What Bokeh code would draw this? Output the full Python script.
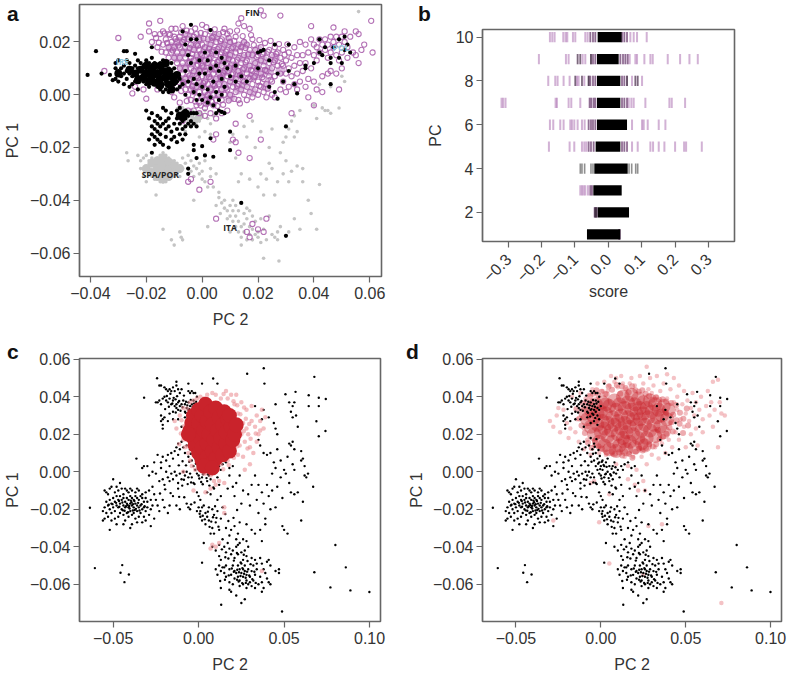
import math
from bokeh.plotting import figure
from bokeh.models import FixedTicker, Label, Div
from bokeh.embed import file_html
from bokeh.resources import INLINE

UNIT = 0.001

a_gray = [(-27,-22),(-26.5,-25),(-23,-23),(-22,-25),(-22,-28),(-21,-31),(-20,-33),(-21,-24),(-20,-23),(-19,-27),(-19,-25),(-19,-29),(-18,-31),(-18,-26),(-18,-24),(-17,-28),(-17,-25),(-17,-30),(-17,-32),(-16,-24),(-16,-26),(-16,-28),(-16,-30),(-16,-32),(-15,-23),(-15,-25),(-15,-27),(-15,-29),(-15,-31),(-15,-33),(-14,-22),(-14,-24),(-14,-26),(-14,-28),(-14,-30),(-14,-32),(-14,-33),(-13,-23),(-13,-25),(-13,-27),(-13,-29),(-13,-31),(-13,-33),(-12,-24),(-12,-26),(-12,-28),(-12,-30),(-12,-32),(-11,-25),(-11,-27),(-11,-29),(-11,-31),(-10,-25),(-10,-27),(-10,-29),(-10,-31),(-9,-26),(-9,-28),(-9,-30),(-8,-27),(-8,-29),(-8,-31),(-7,-24),(-7,-28),(-6,-26),(-5,-23),(-4,-25),(-4,-29),(-3,-27),(-3,-31),(-2,-24),(-2,-28),(-1,-30),(-1,-26),(0,-32),(0,-29),(1,-25),(1,-33),(2,-35),(3,-28),(3,-31),(4,-35),(5,-30),(6,-37),(-16.5,-38),(-14,-51),(-11,-55),(-10,-57),(-8,-52),(-7.5,-54),(-7,-55),(-3,-40),(2,-50),(5,-42),(6,-39),(6.5,-45),(7,-41),(8,-43),(8,-40),(9,-44),(9,-47),(10,-42),(10,-46),(10,-52),(11,-44),(11,-48),(11,-40),(12,-50),(12,-42),(12,-46),(13,-44),(13,-48),(13,-52),(14,-50),(14,-54),(14,-57),(15,-45),(15,-49),(15,-52),(16,-43),(16,-47),(16,-55),(17,-44),(17,-50),(17,-53),(18,-46),(18,-51),(18,-55),(19,-48),(19,-53),(20,-52),(20,-54),(21,-47),(21,-56),(22,-51),(22,-62),(23,-55),(24,-46),(25,-53),(26,-54),(27,-52),(27,-55),(28,-50),(27.5,-63),(31,-52),(33,-47),(35,-51),(41,-51),(39,-45),(13,-33),(14,-30),(17,-32),(20,-35),(21,-30),(22,-38),(23,-32),(24,-26),(25,-28),(26,-38),(27,-33),(29,-30),(30,-25),(31,-33),(32,-29),(34,-27),(36,-28),(36,-33),(38,-40),(42,-34),(12,-24),(11,-15),(10,-18),(15,-12),(16,-16),(18,-10),(19,-20),(21,-14),(24,-20),(25,-13),(28,-22),(29,-18),(30,-16),(31,-13),(32,-10),(33,-8),(33,-16),(34,-14),(35,-6),(40,-4),(41,-9),(43,-5),(44,-6),(45,-6),(46,-7),(49,-5),(42,4),(46,3),(50,7),(51,5),(56,31.5),(-4,-12),(-3,-9),(-2,-7),(-1,-10),(0,-8),(1,-6),(2,-9),(3,-11),(3,-15),(1,-14),(-1,-16),(4,-8),(-6,-7),(-7,-5),(-8,-8),(-5,-10),(-6,-14)]
a_gray_core = [(-20,-28),(-18,-26),(-18,-29.5),(-16,-25),(-16,-28),(-16,-31),(-14,-24),(-14,-27),(-14,-30),(-14,-32),(-12,-25.5),(-12,-28.5),(-12,-31),(-10,-27),(-10,-29.5),(-8,-28),(-3,-10),(-1,-8),(-6,-8),(-8,-6),(-4,-7)]

a_purple = [(-35,9),(-30,21.5),(-25,0.5),(-24,3),(-22,22),(-21,2),(-20,-1.5),(-19,27),(-19,24),(-18,20),(-17,23),(-16,18),(-16,2),(-15,28),(-15,23),(-14,19),(-14,24),(-13,21),(-13,16),(-12,23),(-12,18),(-12,14),(-11,25),(-11,20),(-11,16),(-11,1),(-10,22),(-10,18),(-10,14),(-10,-1),(-9.5,25),(-9,20),(-9,16),(-9,12),(-9,3),(-8,22),(-8,18),(-8,14),(-8,10),(-8,6),(-8,-3),(-7,26),(-7,20),(-7,16),(-7,12),(-7,8),(-7,4),(-6,23),(-6,18),(-6,14),(-6,10),(-6,6),(-6,2),(-5,21),(-5,16),(-5,12),(-5,8),(-5,4),(-5,0),(-4,24),(-4,19),(-4,14),(-4,10),(-4,6),(-4,2),(-4,-2),(-3,22),(-3,17),(-3,13),(-3,9),(-3,5),(-3,1),(-2,23),(-2,19),(-2,15),(-2,11),(-2,7),(-2,3),(-2,-1),(-2,-4),(-1,21),(-1,17),(-1,13),(-1,9),(-1,5),(-1,1),(-1,-3),(0,26.5),(0,19),(0,15),(0,11),(0,7),(0,3),(0,-1),(1,23),(1,18),(1,13),(1,9),(1,5),(1,1),(1,-2),(1,-5),(2,21),(2,16),(2,12),(2,8),(2,4),(2,0),(2,-3),(3,24),(3,19),(3,14),(3,10),(3,6),(3,2),(3,-1),(4,22),(4,17),(4,12),(4,8),(4,4),(4,0),(4,-4),(5,20),(5,15),(5,10),(5,6),(5,2),(5,-2),(6,23),(6,18),(6,13),(6,8),(6,4),(6,0),(7,21),(7,16),(7,11),(7,6),(7,2),(7,-2),(8,25),(8,19),(8,14),(8,9),(8,4),(8,0),(9,23),(9,17),(9,12),(9,7),(9,2),(10,24),(10,20),(10,15),(10,10),(10,5),(10,0),(11,18),(11,13),(11,8),(11,3),(12,22),(12,16),(12,11),(12,6),(12,1),(13,27),(13,19),(13,14),(13,9),(13,4),(13,-2),(14,29),(14,18),(14,12),(14,7),(14,2),(15,26),(15,20),(15,15),(15,10),(15,5),(15,0),(16,19),(16,13),(16,8),(16,3),(16,-2),(17,25),(17,17),(17,11),(17,6),(17,1),(18,21),(18,15),(18,9),(18,4),(18,-1),(19,17),(19,12),(19,7),(19,2),(20,15),(20,10),(20,5),(20,0),(21,32),(21,18),(21,13),(21,8),(21,3),(22,30),(22,16),(22,11),(22,6),(22,1),(23,14),(23,9),(23,4),(23,-1),(24,17),(24,12),(24,7),(25,15),(25,10),(25,5),(25,0),(26,18),(26,13),(26,7),(26,-1),(27,16),(27,11),(28,30),(28,14),(28,8),(28,2),(29,17),(29,11),(29,5),(30,13),(30,8),(30,1),(31,16),(31,10),(31,3),(32,14),(32,7),(32,-7),(33,18),(33,11),(33,4),(34,15),(34,8),(34,2),(35,12),(35,20),(35,5),(36,15),(36,9),(37,19),(37,12),(37,3),(38,16),(38,6),(38,-1),(39,26),(39,21),(39,10),(40,19),(40,15),(40,5),(40,-4),(41,18),(41,13),(41,2),(42,21),(42,16),(43,19),(43,7),(43,1),(44,17),(44,21),(45,19),(45,14),(45,8),(46,22),(46,16),(46,9),(47,18),(47,20),(47,25.5),(48,15),(48,22),(48,8),(49,19),(49,13),(49,2),(50,22),(50,16),(50,10),(51,20),(51,24),(52,14),(52,18),(53,22),(54,16),(55,24),(55,15),(56,12),(56,23),(57,17),(58,19),(60.5,28),(61,16),(-7,-10),(-5,-6),(-3,-6),(-1,-7),(1,-8),(3,-7),(5,-9),(7,-7),(9,-6),(12,-11),(11,-17),(12,-18),(13,-22),(17,-8),(21,-17),(17,-24),(5,-15),(4,-17),(3,-33),(-1,-36),(-5,-33),(-4,-32),(5,-47),(16,-52),(17,-54),(18,-49),(20,-51),(23,-47),(22,-52),
(-16.5,21.5),(-15.5,19.7),(-14.5,16.3),(-13.5,23.2),(-12.5,19.6),(-11.5,22.7),(-10.5,16.8),(-9.5,21.2),(-8.5,18.7),(-7.5,23.6),(-6.5,20.8),(-5.5,24.3),(-4.5,17.7),(-3.5,20.9),(-2.5,25.1),(-1.5,18.6),(-0.5,23.4),(0.5,21.3),(1.5,25.6),(2.5,17.5),(3.5,21.6),(4.5,24.8),(5.5,17.3),(6.5,20.4),(7.5,23.7),(8.5,16.4),(9.5,21.5),(10.5,17.6),(11.5,20.4),(12.5,24.3),(13.5,16.6),(14.5,22.2),(15.5,17.7),(16.5,15.3),(17.5,22.6),(18.5,18.8),(19.5,14.3),(20.5,20.7),(21.5,15.4),(22.5,19.6),(23.5,16.3),(24.5,20.4),(25.5,12.3),(26.5,15.5),(27.5,19.2),(28.5,11.6),(29.5,15.2),(30.5,19.1),(-7.5,1.4),(-6.5,4.7),(-5.5,-2.4),(-4.5,7.3),(-3.5,3.2),(-2.5,-2.6),(-1.5,6.3),(-0.5,-4.1),(0.5,4.4),(1.5,-3.6),(2.5,6.7),(3.5,-2.7),(4.5,3.4),(5.5,-4.3),(6.5,6.6),(7.5,-3.8),(8.5,2.6),(9.5,-2.2),(10.5,6.4),(11.5,-1.6),(12.5,3.4),(13.5,-3.3),(14.5,5.4),(-4.5,12.3),(-3.5,15.4),(-1.5,11.3),(-0.5,15.5),(0.5,10.4),(2.5,13.7),(3.5,16.4),(4.5,9.6),(5.5,12.4),(6.5,15.3),(7.5,8.4),(8.5,11.6),(9.5,13.6),(10.5,7.7),(11.5,10.3),(12.5,13.3),(13.5,7.4),(14.5,9.6),(15.5,12.3),(16.5,6.5),(17.5,9.4),(18.5,6.6),(19.5,9.7),(20.5,3.4),(21.5,6.6),(22.5,9.4),(23.5,2.3),(24.5,5.7)]
a_purple_core = [(-11,18),(-9,14),(-8,20),(-7,10),(-6,16),(-5,22),(-5,6),(-4,12),(-3,18),(-3,3),(-2,8),(-1,14),(-1,21),(0,4),(0,10),(1,17),(1,-1),(2,7),(2,13),(3,20),(3,2),(4,10),(4,16),(5,5),(5,22),(6,12),(6,0),(7,18),(7,8),(8,3),(8,14),(9,20),(9,9),(10,-1),(10,15),(11,5),(11,11),(12,18),(13,8),(13,2),(14,14),(15,4),(15,19),(16,10),(17,15),(18,7),(18,1),(19,12),(20,17),(21,8),(22,13),(23,3),(24,9),(26,14),(28,9)]

a_black = [(-41,7.5),(-38,16.5),(-36,8),(-33,7.5),(-32,5.5),(-31,12),(-31,10),(-31,6),(-30,13),(-30,9),(-30,5),(-29,10),(-29,7),(-28,11),(-28,16.5),(-28,8),(-28,4),(-27,16.5),(-27,13),(-27,9),(-27,6),(-26,12),(-26,3),(-26,8),(-25,10),(-25,7),(-25,4),(-24,15.5),(-24,11),(-24,8),(-24,5),(-23,13),(-23,10),(-23,7),(-23,2),(-22,9),(-22,6),(-22,12),(-21,11),(-21,8),(-21,5),(-20,10),(-20,7),(-20,13),(-20,4),(-19,12),(-19,9),(-19,6),(-19,3),(-18,11),(-18,8),(-18,5),(-18,18),(-18,14),(-17,10),(-17,7),(-17,4),(-17,12),(-16,11),(-16,9),(-16,6),(-16,3),(-15,12),(-15,8),(-15,5),(-15,2),(-15,10),(-14,13),(-14,9),(-14,7),(-14,4),(-14,1),(-13,11),(-13,8),(-13,5),(-13,2),(-12,10),(-12,7),(-12,4),(-12,1),(-11,12),(-11,9),(-11,6),(-11,3),(-10,10),(-10,7),(-10,4),(-9,8),(-9,5),(-9,2),(-8,6),(-8,3),(-7,4),(-7,24),(-6,19),(-6,9),(-6,0),(-5,15),(-5,5),(-4,21),(-4,26.5),(-4,12),(-3,6),(-3,1),(-3,-7),(-2,21),(-2,4),(-2,-2),(-1,13),(-1,8),(-1,0),(0,3),(0,-2),(1,16),(1,8),(2,13),(2,2),(2,-3),(3,24.5),(3,10),(3,-1),(4,5),(4,-4),(5,16),(5,11),(5,1),(6,9),(6,-2),(6,-6),(7,14),(7,6),(7,0),(8,12),(8,3),(8,-7),(9,10),(10,7),(10,-14),(10,-21),(12,11),(12,5),(14,7),(14,-41),(16,5),(20,16),(20,10),(21,16.5),(22,17),(24,13),(24,3),(26,19),(26,1),(27,8),(27,-1.5),(29,5),(30,-12),(30,-53.5),(31,19),(31,9),(33,4),(34,0.5),(37,11),(37,10),(40,12),(42,21),(42,16),(43,15),(44,18),(46,14),(46,12),(47,18),(46,4),(49,21),(49,14),(50,12),(51,22),(51,17),(52,19),(53,16),(-20,-6),(-19,-9),(-18,-7),(-18,-12),(-18,-15),(-19,-17),(-18,-22),(-17,-10),(-17,-13),(-17,-16),(-17,-19),(-16,-8),(-16,-11),(-16,-14),(-16,-17),(-15,-9),(-15,-12),(-15,-15),(-15,-18),(-14,-5),(-14,-11),(-14,-19),(-13,-6),(-13,-10),(-13,-13),(-13,-16),(-12,-9),(-12,-12),(-12,-20),(-11,-7),(-11,-14),(-11,-17),(-10,-11),(-10,-16),(-9,-6),(-9,-9),(-9,-13),(-9,-18),(-8,-5),(-8,-8),(-8,-11),(-8,-15),(-7,-7),(-7,-10),(-7,-13),(-7,-17),(-6,-6),(-6,-9),(-6,-12),(-6,-15),(-5,-8),(-5,-11),(-5,-28),(-5,-30),(-4,-7),(-4,-10),(-4,-12),(-3,-19),(-3,-21),(-3,-11),(-2,-7),(-2,-12),(-2,-24),(0,-19.5),(1,-23),(3,-16.5),(4,-23.5),(5,-7),(7,-6.5)]
a_black_core = [(-30,8),(-26,9.5),(-24,8),(-23,5.5),(-22,9.5),(-21,6.5),(-20,11),(-20,8),(-19,5),(-18,9.5),(-18,7),(-17,11),(-17,4.5),(-16,8),(-15,11),(-15,6),(-15,3.5),(-14,9),(-13,6.5),(-13,12),(-12,9),(-12,4),(-11,7),(-11,2),(-10,5),(-9,7.5),(-8,-8),(-7,-8.5),(-6,-7)]

black_main = [
(-63.6,-19.2),(-60.7,-51.4),(-44.7,-49.8),(-45.7,-53.9),(-40.8,-54.8),(-43.4,-58.9),(-31.9,39.5),(-24.3,49.9),(-36.4,7),
(38.1,55.2),(28.4,52.3),(67.7,50.6),(8.5,49.7),(38.5,47),(50.8,41.3),(56.7,42.6),(64.4,40.8),(70.3,39.5),(74.4,38.8),(64.4,35),(70.3,35),(68.9,26.9),(74.2,21.7),(70.3,18.9),
(80,-39.1),(86.1,-51),(67.7,-53.6),(77.1,-61.7),(88.8,-63.3),(99.9,-64.2),(48.8,-74.6),(13.2,-71),(-23,46),(-22,46),(-20,45),(-19,44),(-18,43),(-17,44),(-16,43),(-15,45),(-14,43),(-13,48),(-13,46),(-12,44),(-11,42),(-10,44),(-6,47),(-6,43),(-5,42),(-4,43),(-3,42),(-2,42),(-1,40),(2,47),(11,47),
(-25,37),(-24,37),(-23,38),(-22,36),(-21,39),(-20,40),(-19,38),(-18,37),(-17,39),(-16,36),(-15,38),(-14,35),(-13,36),(-13,34),(-12,37),(-12,33),(-11,35),(-10,36),(-9,38),(-8,36),(-8,32),(-7,34),(-6,37),(-6,33),(-5,35),(-5,31),(-4,33),(-4,36),(-3,32),(-3,38),(-2,34),(-2,30),(-1,33),(0,35),(-22,30),(-21,28),(-20,29),(-22,27),(-21,25),(-18,27),(-17,31),(-15,32),(-15,28),(-12,28),(-8,29),(-21,23),(-10,24),(-6,26),(-4,27),(-2,25),(-1,28),
(-24,9),(-21,8),(-22,5),(-19,6),(-18,9),(-17,3),(-16,10),(-14,11),(-15,7),(-13,13),(-12,15),(-11,12),(-10,16),(-12,9),(-9,13),(-8,10),(-7,14),(-6,18),(-6,8),(-5,12),(-4,15),(-4,6),(-3,10),(-3,3),(-2,7),(-2,1),(-1,5),(-1,-1),(0,3),(0,-2),(1,1),(1,6),(2,-3),(2,3),(3,5),(3,-1),(4,0),(4,7),(5,3),(5,-5),(6,-2),(7,-4),(7,3),(8,5),(9,-1),(10,1),(11,-3),(12,3),(13,1),(14,4),(16,5),(18,-2),(20,3),
(-33,2),(-32,3),(-30,3),(-29,-2),(-27,0),(-26,5),(-25,-1),(-23,-5),(-22,2),(-21,-4),(-20,-7),(-19,0),(-18,-3),(-17,-5),(-16,-1),(-15,-4),(-14,0),(-13,-2),(-12,-6),(-12,-9),(-11,-1),(-10,-4),(-9,0),(-8,-2),(-7,0),(-6,-3),(-5,-1),(-4,-3),(-3,-6),(-27,-8),(-26,-12),(-25,-15),(-24,-18),(-23,-21),(-21,-15),(-20,-19),(-18,-22),(-17,-18),(-15,-13),(-13,-18),(-11,-20),(-7,-17),(-6,-19),(-5,-20),(-29,-10),
(-1,-11),(0,-13),(1,-15),(0,-19),(-1,-21),(1,-21),(2,-19),(1,-24),(2,-26),(3,-18),(4,-22),(4,-28),(5,-24),(6,-19),(6,-26),(7,-33),(8,-20),(8,-30),(9,-23),(9,-33),(10,-27),(11,-21),(11,-15),(12,-31),(13,-25),(14,-19),(5,-11),(7,-12),(9,-9),(12,-7),(13,-13),(17,-9),(21,-13),(16,-30),(18,-34),(19,-31),(21,-29),(23,-33),(24,-27),(26,-36),(28,-28),(28,-37),(31,-31),(33,-33),(36,-31),(37,-37),(39,-28),(22,-36),(23,-39),(14,-36),(3,-38),(2,-48.5),(8,-40),
(18,2),(20,-8),(22,-6),(24,-2),(25,-17),(26,-10),(29,-12),(30,-18),(31,-7),(33,-2),(34,-15),(35,-22),(35,-7),(37,-11),(38,-17),(39,-25),(40,-7),(41,-13),(42,-20),(43,-10),(43,-1),(45,-19),(45,2),(46,-8),(48,-3),(49,-14),(50,1),(49,-29),(50,-31),(52,-33),(51,-1),(53,-6),(54,-11),(56,-12),(55,4),(56,1),(58,-11),(60,-26),(61,-16),(62,-2),(63,-3),(67,-8),(61,7),(62,3),(60,11),(60,6),(64,-1),(55,16),(53,15),(54,14),(56,12),(52,8),(48,6),(44,5),(46,12),(42,10),(40,9),(38,10),(36,14),(35,17),(37,28),(41,29),(44,26),(45,23),(46,20),(54,32),(55,35),(56,37),(55,29),(57,30),(53,37),(58,24),(45,36),(38,33),(33,35),
(12,-39),(10,-42),(12,-45),(13,-47),(15,-40),(16,-43),(17,-38),(18,-41),(19,-44),(20,-42),(21,-46),(22,-40),(23,-44),(24,-38),(25,-43),(26,-47),(27,-42),(28,-45),(29,-40),(31,-46),(32,-50),(33,-47),(34,-49),(36,-46),(37,-49),(38,-52),(40,-48),(41,-47),(42,-50),(47,-52),(47,-54),(45,-53),
(10,-52),(11,-55),(12,-50),(13,-53),(14,-51),(15,-54),(15,-51),(16,-50),(16,-56),(18,-52),(19,-55),(20,-50),(21,-57),(21,-53),(22,-54),(23,-50),(23,-56),(24,-52),(24,-58),(25,-54),(25,-49),(26,-56),(26,-52),(26,-60),(27,-53),(27,-50),(28,-55),(28,-58),(29,-52),(29,-60),(30,-56),(31,-53),(32,-58),(33,-55),(34,-52),(35,-60),(36,-56),(37,-59),(38,-62),(39,-54),(40,-57),(41,-59),(42,-60),(13,-62),(18,-59),(18,-63),(19,-64),(20,-60),(22,-66),(25,-70),(27,-68),(28,-62),(31,-61),(33,-62),(37,-64),(30,-59),(24,-61),
(-55,-10),(-54,-11),(-53,-12),(-52,-9),(-51,-8),(-50,-4),(-49,-11),(-48,-8),(-47,-10),(-46,-6),(-45,-9),(-44,-12),(-43,-9),(-42,-10),(-41,-11),(-40,-9),(-39,-10),(-37,-11),(-36,-9),(-35,-10),(-33,-12),(-31,-11),
(-54,-16),(-53,-18),(-52,-15),(-51,-17),(-50,-14),(-49,-16),(-48,-13),(-47,-15),(-46,-13),(-45,-15),(-44,-14),(-43,-16),(-42,-14),(-41,-15),(-40,-13),(-39,-14),(-38,-15),(-37,-13),(-36,-14),(-35,-15),(-34,-13),(-33,-14),(-32,-16),(-31,-14),(-30,-16),(-28,-15),
(-56,-21),(-55,-19),(-54,-22),(-53,-24),(-52,-20),(-51,-22),(-50,-19),(-49,-21),(-48,-18),(-47,-19),(-46,-17),(-45,-20),(-44,-18),(-43,-19),(-42,-17),(-41,-19),(-40,-17),(-39,-18),(-38,-19),(-37,-17),(-36,-18),(-35,-19),(-34,-18),(-33,-20),(-32,-19),(-31,-21),(-30,-19),(-28,-20),(-27,-18),
(-56,-26),(-55,-25),(-51,-26),(-49,-25),(-47,-24),(-46,-22),(-44,-23),(-43,-26),(-42,-22),(-41,-24),(-40,-21),(-39,-23),(-38,-22),(-37,-25),(-36,-21),(-35,-24),(-34,-22),(-32,-24),(-31,-26),(-29,-23),(-26,-25),(-28,-29),(-52,-31),(-48,-28),(-44,-28),(-40,-30),(-39,-28),(-36,-27),(-33,-27),
]
black_extra = [(-48.3,-16.6),(-46.4,-18.7),(-44.6,-16.4),(-43.3,-20.8),(-41.6,-17.7),(-40.4,-19.6),(-39.3,-16.3),(-38.5,-20.7),(-37.6,-15.6),(-36.7,-19.8),(-35.4,-16.6),(-41.3,-21.6),(-39.7,-15.4),(-44.3,-20.6),(-46.6,-15.6),(-42.5,-18.4),(-38.4,-17.3),(-40.6,-18.3),(-37.4,-20.4),(-34.6,-20.7),(-33.4,-17.3),(-31.6,-18.4),(-50.4,-17.3),(-52.6,-17.6),
(-18.6,40.4),(-16.5,41.6),(-15.4,36.4),(-14.6,39.4),(-13.5,38.6),(-12.6,40.3),(-11.4,37.7),(-10.6,32.5),(-9.4,34.4),(-8.6,40.6),(-7.4,37.3),(-6.6,35.4),(-5.5,33.4),(-4.6,38.3),(-3.5,34.7),(-2.6,36.4),(-1.5,37.3),(-7.6,31.4),(-4.4,30.4),(-6.3,29.4),(-3.3,28.7),(-19.6,33.4),(-17.4,34.7),(-13.4,31.6),
(-2.6,17.4),(-3.6,13.3),(-4.6,9.6),(-5.5,5.3),(-1.4,11.6),(-0.6,8.4),(0.4,-3.6),(1.5,-5.5),(2.6,-1.4),(3.4,2.6),(4.6,-3.4),(5.5,-1.3),(6.4,1.6),(7.6,-0.4),(8.6,2.4),(-1.6,4.3),(-0.4,1.4),(0.6,5.3),(1.6,3.6),(-7.4,3.4),(-9.4,5.6),(-11.6,3.4),(-8.6,-4.3),(-6.4,-6.6),(-4.4,-5.7),(-2.4,-6.6),(2.4,-6.7),(6.3,-7.4),(8.6,-8.4),
(13.6,-41.4),(15.6,-45.6),(17.4,-46.3),(20.6,-47.4),(22.4,-43.3),(24.6,-48.4),(26.4,-44.3),(28.6,-47.6),(30.4,-49.3),(19.4,-51.6),(20.6,-53.4),(22.6,-52.3),(23.6,-53.6),(24.5,-55.6),(25.6,-51.4),(26.6,-54.4),(27.5,-56.6),(28.4,-53.3),(29.6,-55.3),(22.5,-57.6),(25.5,-59.4),(27.6,-59.3),(23.4,-58.6),(31.4,-57.3),(32.6,-53.4),(33.4,-59.3),(15.4,-57.6),(12.6,-58.3),(17.6,-55.3),
(0.6,-22.4),(2.4,-23.5),(3.6,-25.4),(5.4,-21.3),(7.4,-26.6),(8.4,-24.3),(10.4,-24.6),(11.6,-29.3),(6.4,-29.4),(9.6,-18.4),(15.6,-22.6),(17.4,-26.3),(20.4,-24.6),(22.5,-20.4),(-2.4,-16.4),(-4.4,-17.4),(-8.4,-13.6),(-19.6,-9.4),(-22.6,-11.6),(-16.4,-11.4),(-11.4,-13.4),(-9.6,-7.4)]

c_core = [(-5,22),(-4,26),(-3,18),(-3,30),(-2,14),(-1,22),(0,10),(0,26),(0,33),(1,18),(2,6),(2,13),(2,30),(3,22),(4,36),(5,8),(5,15),(5,27),(6,20),(7,32),(7,4),(8,11),(8,25),(9,17),(10,34),(10,7),(11,22),(12,13),(12,29),(13,18),(14,9),(14,25),(15,32),(16,15),(16,21),(17,28),(18,11),(19,24),(20,17),(21,20),(-6,20),(3,3),(8,2),(18,30),(22,25)]
c_pale = [(-14,27),(-13,23),(-11,30),(-9,34),(-9,17),(-8,13),(-7,27),(-6,10),(-5,37),(-5,6),(-4,3),(-3,38),(-2,1),(-1,39),(0,2),(-9,0),(1,40),(3,39),(3,-1),(5,41),(7,-2),(7,-9),(8,42),(10,-7),(10,41),(11,1),(12,-5),(13,39),(13,4),(15,-6),(15,-19),(16,43),(17,39),(17,6),(19,41),(20,9),(21,36),(22,41),(23,9),(23,31),(24,14),(25,37),(25,20),(26,26),(26,8),(27,16),(28,33),(28,23),(29,20),(30,13),(31,35),(31,27),(32,10),(33,24),(34,30),(34,16),(35,20),(36,27),(36,22),(37,33),(38,23),(39,29),(-3,-10),(4,-11),(9,-5),(8,-39),(10,-40),(12,-38),(7,-41),(15,-22),(37,-53),(27,1),(30,4),(4,-1),(-10,27.4),(-8.6,24.3),(-7.4,20.6),(-10.4,20.4),(-6.6,33.6),(-6.4,13.6),(26.4,21.6),(27.6,28.3),(29.6,25.4),(30.4,17.6),(24.4,30.6),(26.6,34.3),(22.6,35.4),(20.4,37.6),(14.6,41.4),(28.6,12.4),(22.6,13.6),(20.6,7.4),(17.6,3.6),(14.4,1.3),(-11.4,14.6),(33.4,20.4)]

d_core = [(-8,28),(-6,24),(-6,33),(-4,20),(-4,29),(-3,36),(-2,25),(-1,16),(0,32),(0,21),(1,27),(1,37),(2,14),(2,23),(3,31),(4,19),(4,26),(5,35),(5,12),(6,22),(7,29),(7,16),(8,38),(8,25),(9,33),(9,11),(10,20),(10,27),(11,14),(11,36),(12,23),(12,30),(13,18),(13,40),(14,26),(14,34),(15,12),(15,21),(16,29),(16,37),(17,16),(17,24),(18,33),(18,41),(19,20),(19,28),(20,13),(20,36),(21,25),(21,31),(22,18),(22,39),(23,28),(23,34),(24,15),(24,22),(25,31),(25,37),(26,25),(27,18),(27,34),(28,29),(29,22),(29,38),(30,32),(31,25),(32,19),(32,36),(33,29),(34,33),(35,24),(36,30),(37,35),(37,21),(39,28),(40,33),(-9,31),(-2,31),(3,36),(14,16),(26,14)]
d_mid = [(-14.4,33.4),(-12.6,28.4),(-11.4,24.6),(-10.6,36.4),(-9.4,20.6),(-8.4,37.4),(-7.6,15.4),(-6.4,40.3),(-5.4,12.6),(-4.6,41.6),(-3.4,16.4),(-2.6,43.4),(-1.4,13.6),(0.4,42.6),(0.6,12.4),(2.6,41.4),(3.4,10.3),(4.6,45.4),(6.4,10.7),(6.6,43.7),(8.4,9.6),(9.4,46.3),(10.6,10.4),(11.4,41.6),(12.6,8.7),(12.4,45.4),(14.6,44.7),(14.4,10.6),(16.4,42.4),(16.6,9.4),(18.4,45.6),(18.6,7.4),(20.4,43.4),(20.6,10.7),(22.4,42.6),(22.6,12.4),(24.4,43.4),(24.6,11.3),(26.4,41.6),(26.6,12.7),(28.4,40.4),(28.6,14.6),(30.4,38.4),(30.6,13.4),(32.4,39.7),(32.6,14.6),(34.4,38.4),(34.6,17.3),(36.4,38.6),(36.6,18.7),(38.4,37.4),(38.6,20.3),(40.4,23.6),(41.4,36.6),(42.6,30.4),(42.4,21.4),(44.6,27.4),(44.4,35.6),(46.6,31.4),(46.4,25.6),(48.6,28.3),(48.4,20.7),(50.6,33.7),(51.4,24.6),(3.4,41.3),(-1.4,40.6),(-5.4,37.4),(-7.4,24.4),(38.4,31.6),(33.6,22.4),(41.6,26.4)]
d_pale = [(-30,27),(-28,24),(-26,30),(-25,34),(-24,21),(-22,33),(-20,26),(-19,18),(-18,23),(-17,40),(-15,21),(-14,28),(-13,16),(-12,42),(-11,34),(-10,23),(-10,12),(-9,39),(-8,17),(-7,41),(-6,9),(-5,44),(-4,14),(-3,42),(-2,47),(-1,10),(1,43),(2,48),(3,9),(4,43),(5,46),(6,51),(7,9),(8,48),(9,50),(9,4),(10,45),(12,51),(13,47),(14,8),(15,44),(16,3),(16,-4),(17,47),(18,50),(19,8),(20,-7),(20,46),(21,1),(22,-10),(23,51),(24,8),(25,47),(25,-5),(26,-10),(27,56),(27,4),(28,44),(28,-29),(29,50),(30,9),(30,42),(31,46),(32,13),(33,40),(33,51),(34,7),(35,43),(36,15),(36,-28),(37,47),(38,10),(39,52),(39,39),(40,17),(41,44),(41,26),(42,13),(43,37),(43,50),(44,21),(45,33),(45,40),(46,17),(46,46),(47,28),(48,36),(49,24),(49,43),(50,13),(50,31),(51,38),(52,27),(53,34),(53,20),(54,42),(55,30),(56,37),(56,23),(57,14),(58,33),(59,40),(60,28),(60,21),(62,35),(63,43),(64,30),(65,37),(66,24),(66,48),(67,33),(69,49),(70,37),(71,31),(73,30),(69,13),(71,-70),(5,-12),(-6,-6),(-4,-5),(-28,-26),(5,-49),(25,-55),(-1,-27)]

pc_lo = [-0.064,-0.032,-0.045,-0.042,-0.038,-0.034,-0.034,-0.034,-0.034,-0.032]
pc_hi = [0.036,0.062,0.040,0.058,0.036,0.056,0.036,0.036,0.031,0.040]
pc_ticks = {
    1: [0.032, 0.034],
    2: [-0.041, -0.038, -0.035],
    3: [-0.084, -0.079, -0.074, -0.069, -0.061, -0.054, -0.049],
    5: [-0.178, -0.116, -0.102, -0.079, -0.072, -0.066, -0.059, -0.052, -0.044, 0.041, 0.048, 0.056, 0.071, 0.088, 0.126, 0.134, 0.151, 0.168, 0.2, 0.227, 0.233, 0.28],
    6: [-0.175, -0.165, -0.144, -0.134, -0.114, -0.109, -0.102, -0.092, -0.079, -0.071, -0.059, -0.052, -0.046, -0.039, 0.071, 0.101, 0.106, 0.118, 0.151, 0.171],
    7: [-0.32, -0.315, -0.308, -0.158, -0.154, -0.119, -0.111, -0.084, -0.056, -0.051, -0.044, -0.039, 0.041, 0.048, 0.056, 0.061, 0.069, 0.076, 0.111, 0.183, 0.19, 0.23],
    8: [-0.18, -0.159, -0.152, -0.134, -0.116, -0.099, -0.094, -0.089, -0.079, -0.072, -0.059, -0.054, -0.046, -0.039, 0.041, 0.048, 0.056, 0.071, 0.081, 0.088, 0.101],
    9: [-0.208, -0.127, -0.119, -0.092, -0.084, -0.077, -0.069, -0.052, -0.046, -0.039, 0.036, 0.044, 0.051, 0.058, 0.064, 0.081, 0.086, 0.108, 0.126, 0.133, 0.178, 0.215, 0.243, 0.268],
    10: [-0.175, -0.168, -0.161, -0.135, -0.128, -0.123, -0.106, -0.099, -0.069, -0.062, -0.054, -0.046, -0.039, 0.041, 0.048, 0.056, 0.066, 0.076, 0.086, 0.115],
}
pc_gray_ticks = {
    2: [-0.04, -0.036],
    4: [-0.084, -0.079, -0.071, -0.052, -0.046, 0.062, 0.07, 0.082, 0.088],
    8: [-0.099, -0.079, -0.059, 0.056, 0.081, 0.088],
    9: [-0.092, -0.084, -0.052],
}

a_xticks = [-0.04, -0.02, 0.0, 0.02, 0.04, 0.06]
a_yticks = [-0.06, -0.04, -0.02, 0.0, 0.02]
b_xticks = [-0.3, -0.2, -0.1, 0.0, 0.1, 0.2, 0.3]
b_yticks = [2, 4, 6, 8, 10]
cd_xticks = [-0.05, 0.0, 0.05, 0.10]
cd_yticks = [-0.06, -0.04, -0.02, 0.0, 0.02, 0.04, 0.06]

FONT = "Liberation Sans"
INK = "#333333"
EDGE = "#666666"


def fmt(v, places=2):
    s = f"{abs(v):.{places}f}"
    return ("\u2212" + s) if v < 0 else s


def xs(pairs):
    return [q[0] * UNIT for q in pairs]


def ys(pairs):
    return [q[1] * UNIT for q in pairs]


def panel(pos, w, h, left, right, top, bottom, xr, yr, xt, yt, xlab, ylab, places, ystand):
    p = figure(width=w, height=h, min_border_left=left, min_border_right=right,
               min_border_top=top, min_border_bottom=bottom, x_range=xr, y_range=yr,
               output_backend="svg", toolbar_location=None, background_fill_color="white",
               border_fill_color=None)
    p.styles = {"position": "absolute", "left": f"{pos[0]}px", "top": f"{pos[1]}px"}
    p.grid.visible = False
    p.outline_line_color = EDGE
    p.outline_line_width = 1.6
    p.xaxis.ticker = FixedTicker(ticks=xt)
    p.yaxis.ticker = FixedTicker(ticks=yt)
    p.xaxis.major_label_overrides = {t: fmt(t, places) for t in xt}
    p.yaxis.major_label_overrides = {t: fmt(t, places) for t in yt}
    for ax in (p.xaxis[0], p.yaxis[0]):
        ax.axis_line_color = EDGE
        ax.axis_line_width = 1.2
        ax.major_tick_line_color = EDGE
        ax.major_tick_line_width = 1.2
        ax.major_tick_out = 6
        ax.major_tick_in = 0
        ax.minor_tick_line_color = None
        ax.major_label_text_font = FONT
        ax.major_label_text_font_size = "16px"
        ax.major_label_text_color = INK
        ax.major_label_standoff = 4
        ax.axis_label_text_font = FONT
        ax.axis_label_text_font_size = "16px"
        ax.axis_label_text_font_style = "normal"
        ax.axis_label_text_color = INK
        ax.axis_label_standoff = 9
    p.yaxis[0].major_label_standoff = 3
    p.yaxis[0].axis_label_standoff = ystand
    p.yaxis[0].major_label_orientation = "horizontal"
    p.xaxis[0].axis_label = xlab
    p.yaxis[0].axis_label = ylab
    return p


def letter(txt, left, top):
    return Div(text=txt, width=24, height=24, margin=0,
               styles={"position": "absolute", "left": f"{left}px", "top": f"{top}px",
                       "font-family": FONT, "font-weight": "bold", "font-size": "21px",
                       "line-height": "21px", "color": "#111111"})


# --- panel a
pa = panel((0, 0), 400, 335, 79, 19, 4, 59, (-0.0439, 0.0642), (-0.0689, 0.0342), a_xticks, a_yticks,
           "PC 2", "PC 1", 2, 6)
pa.scatter(xs(a_gray), ys(a_gray), size=3.6, color="#c4c4c4", line_color=None)
pa.scatter(xs(a_gray_core), ys(a_gray_core), size=9, color="#c4c4c4", line_color=None)
pa.scatter(xs(a_purple_core), ys(a_purple_core), size=10, color="#a24fa8", line_color=None, alpha=0.4)
pa.scatter(xs(a_purple), ys(a_purple), size=5.2, fill_color=None, line_color="#a75aa9", line_width=1.1, line_alpha=0.85)
pa.scatter(xs(a_black), ys(a_black), size=4.2, color="#000000", line_color=None)
pa.scatter(xs(a_black_core), ys(a_black_core), size=8, color="#000000", line_color=None)
for txt, x, y, col in [("FIN", 0.018, 0.0311, "#222222"), ("IRE", -0.0285, 0.0127, "#8fc6dc"),
                       ("POL", 0.0497, 0.0178, "#8fc6dc"), ("SPA/POR", -0.015, -0.0302, "#222222"),
                       ("ITA", 0.010, -0.0503, "#222222")]:
    pa.add_layout(Label(x=x, y=y, text=txt, text_font="Open Sans", text_font_style="bold",
                        text_font_size="8.5px", text_color=col, text_align="center", text_baseline="middle"))

# --- panel b
pb = panel((400, 0), 391, 335, 82, 57, 29, 94, (-0.377, 0.378), (0.67, 10.35), b_xticks, b_yticks,
           "score", "PC", 1, 9)
pb.yaxis[0].major_label_overrides = {t: str(t) for t in b_yticks}
pb.xaxis[0].major_label_orientation = math.pi / 4
pb.xaxis[0].major_label_standoff = 9
pb.xaxis[0].axis_label_standoff = -7
HALF = 0.235
for pc, vals in pc_ticks.items():
    pb.segment(vals, [pc - HALF] * len(vals), vals, [pc + HALF] * len(vals),
               line_color="#93479a", line_alpha=0.42, line_width=2)
    dark = [v for v in vals if abs(v) < 0.06]
    pb.segment(dark, [pc - HALF] * len(dark), dark, [pc + HALF] * len(dark),
               line_color="#2a0a2e", line_alpha=0.4, line_width=1.6)
for pc, vals in pc_gray_ticks.items():
    pb.segment(vals, [pc - HALF] * len(vals), vals, [pc + HALF] * len(vals),
               line_color="#222222", line_alpha=0.5, line_width=1.6)
pb.hbar(y=list(range(1, 11)), left=pc_lo, right=pc_hi, height=2 * HALF, color="#000000", line_color=None)

# --- panels c, d
XR = (-0.0697, 0.1064)
YR = (-0.0799, 0.0604)
pc_ = panel((0, 335), 400, 342, 79, 20, 23, 56, XR, YR, cd_xticks, cd_yticks, "PC 2", "PC 1", 2, 6)
pc_.scatter(xs(black_main), ys(black_main), size=2.4, color="#000000", line_color=None)
pc_.scatter(xs(black_extra), ys(black_extra), size=2.4, color="#000000", line_color=None)
pc_.scatter(xs(c_pale), ys(c_pale), size=4.5, color="#e9868c", line_color=None, alpha=0.55)
pc_.scatter(xs(c_core), ys(c_core), size=15, color="#c9232b", line_color=None)

pd_ = panel((400, 335), 391, 342, 82, 10, 23, 56, XR, YR, cd_xticks, cd_yticks, "PC 2", "PC 1", 2, 5)
pd_.scatter(xs(d_pale), ys(d_pale), size=4.5, color="#e9868c", line_color=None, alpha=0.5)
pd_.scatter(xs(d_mid), ys(d_mid), size=6, color="#dc5a62", line_color=None, alpha=0.5)
pd_.scatter(xs(d_core), ys(d_core), size=14, color="#c9232b", line_color=None, alpha=0.38)
pd_.scatter(xs(black_main), ys(black_main), size=2.4, color="#000000", line_color=None)
pd_.scatter(xs(black_extra), ys(black_extra), size=2.4, color="#000000", line_color=None)

letters = [letter("a", 7, 3), letter("b", 418, 3), letter("c", 7, 341), letter("d", 406, 341)]
open("out.html", "w").write(file_html([pa, pb, pc_, pd_] + letters, INLINE))
